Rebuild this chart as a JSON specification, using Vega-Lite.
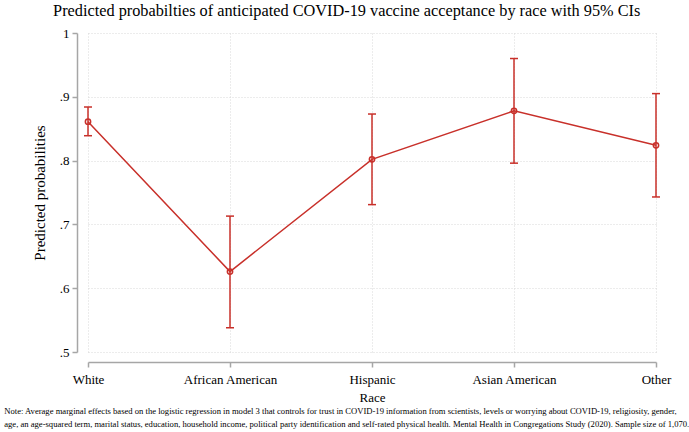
{
  "$schema": "https://vega.github.io/schema/vega-lite/v6.json",
  "padding": {"left": 4, "top": 2, "right": 5, "bottom": 0},
  "title": {
    "text": "Predicted probabilties of anticipated COVID-19 vaccine acceptance by race with 95% CIs",
    "font": "Liberation Serif",
    "fontSize": 16.3,
    "fontWeight": "normal",
    "color": "#000000",
    "anchor": "middle",
    "frame": "bounds",
    "offset": 8
  },
  "config": {"view": {"stroke": null}, "font": "Liberation Serif"},
  "vconcat": [
    {
      "width": 568,
      "height": 319,
      "data": {
        "values": [
          {"race": "White", "p": 0.861, "lo": 0.839, "hi": 0.884},
          {"race": "African American", "p": 0.626, "lo": 0.538, "hi": 0.713},
          {"race": "Hispanic", "p": 0.802, "lo": 0.731, "hi": 0.873},
          {"race": "Asian American", "p": 0.878, "lo": 0.796, "hi": 0.960},
          {"race": "Other", "p": 0.824, "lo": 0.743, "hi": 0.905}
        ]
      },
      "title": {
        "text": [
          "Note: Average marginal effects based on the logistic regression in model 3 that controls for trust in COVID-19 information from scientists, levels or worrying about COVID-19, religiosity, gender,",
          "age, an age-squared term, marital status, education, household income, political party identification and self-rated physical health. Mental Health in Congregations Study (2020). Sample size of 1,070."
        ],
        "orient": "bottom",
        "anchor": "start",
        "frame": "bounds",
        "font": "Liberation Serif",
        "fontSize": 8.6,
        "fontWeight": "normal",
        "color": "#000000",
        "lineHeight": 12.5,
        "dx": -28,
        "offset": 3
      },
      "encoding": {
        "x": {
          "field": "race",
          "type": "nominal",
          "sort": null,
          "scale": {"type": "point", "padding": 0},
          "axis": {
            "title": "Race",
            "titleFont": "Liberation Serif",
            "titleFontSize": 13,
            "titleFontWeight": "normal",
            "titleColor": "#000000",
            "titlePadding": 5,
            "labelFont": "Liberation Serif",
            "labelFontSize": 13,
            "labelColor": "#000000",
            "labelAngle": 0,
            "labelPadding": 6,
            "offset": 10,
            "domainColor": "#a6a6a6",
            "domainWidth": 1.5,
            "tickColor": "#a6a6a6",
            "tickWidth": 1.5,
            "tickSize": 5,
            "grid": true,
            "gridColor": "#d9d9d9",
            "gridDash": [1, 2],
            "gridWidth": 1
          }
        }
      },
      "layer": [
        {
          "mark": {"type": "rule", "color": "#c8302a", "strokeWidth": 1.5},
          "encoding": {
            "y": {
              "field": "lo",
              "type": "quantitative",
              "scale": {"domain": [0.5, 1], "nice": false, "zero": false},
              "axis": {
                "title": "Predicted probabilities",
                "titleFont": "Liberation Serif",
                "titleFontSize": 15,
                "titleFontWeight": "normal",
                "titleColor": "#000000",
                "titlePadding": 12,
                "labelFont": "Liberation Serif",
                "labelFontSize": 13,
                "labelColor": "#000000",
                "labelPadding": 3,
                "values": [0.5, 0.6, 0.7, 0.8, 0.9, 1],
                "labelExpr": "datum.value >= 1 ? '1' : substring(format(datum.value, '.1f'), 1)",
                "offset": 11,
                "domainColor": "#a6a6a6",
                "domainWidth": 1.5,
                "tickColor": "#a6a6a6",
                "tickWidth": 1.5,
                "tickSize": 5,
                "grid": true,
                "gridColor": "#d9d9d9",
                "gridDash": [1, 2],
                "gridWidth": 1
              }
            },
            "y2": {"field": "hi"}
          }
        },
        {
          "mark": {"type": "tick", "color": "#c8302a", "orient": "horizontal", "size": 8, "thickness": 1.5, "opacity": 1},
          "encoding": {"y": {"field": "lo", "type": "quantitative"}}
        },
        {
          "mark": {"type": "tick", "color": "#c8302a", "orient": "horizontal", "size": 8, "thickness": 1.5, "opacity": 1},
          "encoding": {"y": {"field": "hi", "type": "quantitative"}}
        },
        {
          "mark": {"type": "line", "color": "#c8302a", "strokeWidth": 1.5},
          "encoding": {"y": {"field": "p", "type": "quantitative"}}
        },
        {
          "mark": {"type": "point", "color": "#c8302a", "filled": false, "size": 28, "strokeWidth": 1.5, "opacity": 1},
          "encoding": {"y": {"field": "p", "type": "quantitative"}}
        }
      ]
    }
  ]
}
